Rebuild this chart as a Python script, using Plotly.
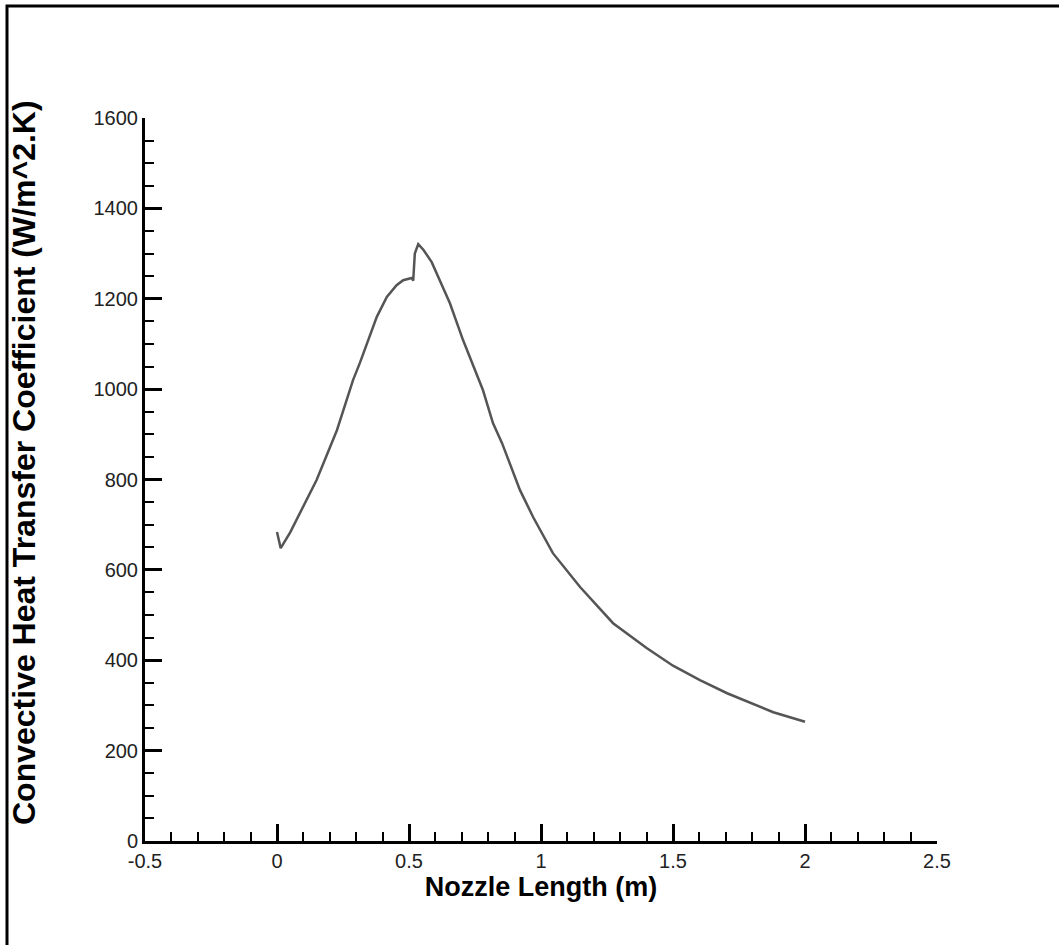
import plotly.graph_objects as go

nozzle_length = [0.0, 0.014, 0.05, 0.087, 0.15, 0.227, 0.288, 0.314, 0.378, 0.416, 0.453,
                 0.478, 0.51, 0.516, 0.522, 0.535, 0.555, 0.586, 0.655, 0.705, 0.78, 0.818,
                 0.852, 0.92, 0.97, 1.045, 1.148, 1.273, 1.40, 1.5, 1.602, 1.705, 1.80, 1.88, 2.0]
heat_coeff = [684, 648, 683, 726, 799, 909, 1020, 1058, 1160, 1204, 1230,
              1241, 1246, 1240, 1300, 1321, 1308, 1281, 1190, 1108, 998, 925,
              881, 777, 717, 637, 562, 482, 427, 388, 356, 327, 305, 285, 264]

x_ticks = [-0.5, 0, 0.5, 1, 1.5, 2, 2.5]
x_tick_labels = ["-0.5", "0", "0.5", "1", "1.5", "2", "2.5"]
y_ticks = [0, 200, 400, 600, 800, 1000, 1200, 1400, 1600]
y_tick_labels = ["0", "200", "400", "600", "800", "1000", "1200", "1400", "1600"]
y_title = "Convective Heat Transfer Coefficient (W/m^2.K)"
x_title = "Nozzle Length (m)"

fig = go.Figure()
fig.add_trace(go.Scatter(x=nozzle_length, y=heat_coeff, mode="lines",
                         line=dict(color="#555555", width=2.5), showlegend=False))

tickfont = dict(family="Liberation Sans, Arial, sans-serif", size=20, color="#222222")

fig.update_layout(
    width=1059, height=945,
    margin=dict(l=145, r=122, t=118, b=104),
    paper_bgcolor="white", plot_bgcolor="white",
    xaxis=dict(range=[-0.5, 2.5], tickvals=x_ticks, ticktext=x_tick_labels,
               showline=True, linecolor="black", linewidth=3, showgrid=False, zeroline=False,
               ticks="inside", ticklen=17, tickwidth=3, tickcolor="black",
               minor=dict(ticks="inside", ticklen=9, tickwidth=2, tickcolor="black", dtick=0.1, showgrid=False),
               tickfont=tickfont,
               title=dict(text=x_title,
                          font=dict(family="Liberation Sans, Arial, sans-serif", size=27, color="black", weight="bold"),
                          standoff=0)),
    yaxis=dict(range=[0, 1600], tickvals=y_ticks, ticktext=y_tick_labels,
               showline=True, linecolor="black", linewidth=3, showgrid=False, zeroline=False,
               ticks="inside", ticklen=17, tickwidth=3, tickcolor="black",
               minor=dict(ticks="inside", ticklen=9, tickwidth=2, tickcolor="black", dtick=50, showgrid=False),
               tickfont=tickfont),
    annotations=[dict(text=y_title, textangle=-90, xref="paper", yref="paper",
                      x=(24 - 145) / 792, y=(841 - 463) / 723, xanchor="center", yanchor="middle",
                      showarrow=False,
                      font=dict(family="Liberation Sans, Arial, sans-serif", size=32, color="black", weight="bold"))],
    shapes=[dict(type="rect", xref="paper", yref="paper",
                 x0=(7 - 145) / 792, x1=(1075 - 145) / 792,
                 y0=(841 - 965) / 723, y1=(841 - 6) / 723,
                 line=dict(color="black", width=3), layer="below")],
)

fig.write_html("out.html")
